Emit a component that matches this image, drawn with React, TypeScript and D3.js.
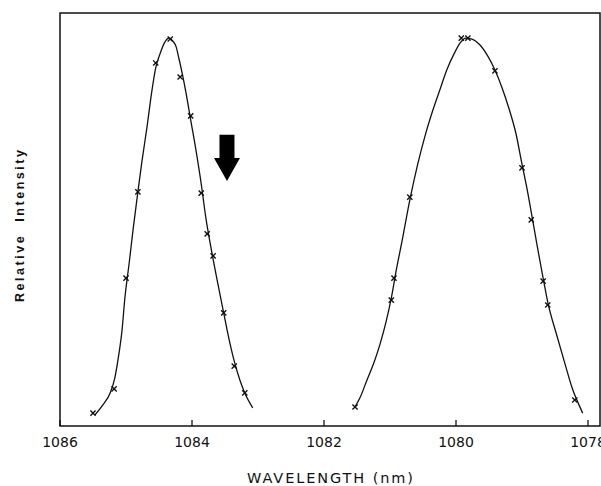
import React from "react";
import * as d3 from "d3";

// Wavelength ticks (nm)
const xTicks = [1086, 1084, 1082, 1080, 1078];

// Left peak: smooth curve samples [wavelength nm, relative intensity %]
const leftCurve: [number, number][] = [
  [1085.47, 2.7], [1085.35, 5.1], [1085.24, 8.0], [1085.17, 11.6], [1085.11, 17.2],
  [1085.06, 23.2], [1085.02, 30.5], [1084.95, 39.7], [1084.89, 47.9], [1084.82, 56.7],
  [1084.76, 63.9], [1084.68, 72.6], [1084.61, 80.9], [1084.55, 86.7], [1084.48, 90.3],
  [1084.42, 92.7], [1084.35, 93.9], [1084.29, 93.2], [1084.24, 91.8], [1084.2, 89.1],
  [1084.15, 85.5], [1084.09, 80.6], [1084.02, 74.1], [1083.94, 66.8], [1083.86, 58.6],
  [1083.79, 50.4], [1083.7, 42.1], [1083.61, 34.6], [1083.52, 27.4], [1083.44, 21.1],
  [1083.36, 15.7], [1083.27, 10.9], [1083.2, 8.0], [1083.08, 4.4],
];

// Left peak: measured points
const leftPoints: [number, number][] = [
  [1085.5, 3.1], [1085.18, 9.0], [1085.0, 35.8], [1084.82, 56.7], [1084.55, 87.9],
  [1084.33, 93.7], [1084.18, 84.5], [1084.02, 75.1], [1083.86, 56.4], [1083.77, 46.5],
  [1083.68, 41.2], [1083.52, 27.4], [1083.36, 14.5], [1083.2, 8.0],
];

// Right peak: smooth curve samples
const rightCurve: [number, number][] = [
  [1081.53, 4.6], [1081.45, 7.0], [1081.35, 11.1], [1081.24, 15.5], [1081.15, 19.9],
  [1081.06, 25.2], [1080.98, 31.0], [1080.91, 37.3], [1080.82, 44.6], [1080.7, 54.7],
  [1080.58, 63.4], [1080.47, 70.2], [1080.35, 76.5], [1080.24, 81.6], [1080.14, 86.2],
  [1080.03, 90.1], [1079.94, 92.7], [1079.85, 93.9], [1079.76, 93.7], [1079.64, 92.3],
  [1079.52, 89.6], [1079.41, 86.2], [1079.3, 81.8], [1079.2, 77.0], [1079.09, 70.7],
  [1079.0, 63.4], [1078.92, 57.1], [1078.86, 51.8], [1078.77, 43.6], [1078.68, 35.8],
  [1078.61, 30.0], [1078.47, 21.8], [1078.33, 14.0], [1078.24, 9.2], [1078.15, 5.6],
  [1078.08, 3.1],
];

// Right peak: measured points
const rightPoints: [number, number][] = [
  [1081.53, 4.6], [1080.98, 30.5], [1080.94, 35.8], [1080.7, 55.4], [1079.92, 93.9],
  [1079.82, 93.9], [1079.41, 86.0], [1079.0, 62.5], [1078.86, 49.9], [1078.68, 35.1],
  [1078.61, 29.3], [1078.2, 6.3],
];

// Arrow marker position (wavelength, intensity of tip / top)
const arrowAt = { nm: 1083.47, tip: 59.3, top: 70.5 };

const W = 601;
const H = 486;
const frame = { left: 60, top: 13, right: 600, bottom: 426 };

export default function App() {
  const x = d3.scaleLinear().domain([1086, 1078]).range([60, 588]);
  const y = d3.scaleLinear().domain([0, 100]).range([frame.bottom, frame.top]);
  const line = d3
    .line<[number, number]>()
    .x((d) => x(d[0]))
    .y((d) => y(d[1]))
    .curve(d3.curveMonotoneX);

  const sortCurve = (c: [number, number][]) => [...c].sort((a, b) => b[0] - a[0]);

  const marker = (d: [number, number], i: number) => {
    const cx = x(d[0]);
    const cy = y(d[1]);
    const s = 2.6;
    return (
      <path
        key={i}
        d={`M${cx - s},${cy - s}L${cx + s},${cy + s}M${cx + s},${cy - s}L${cx - s},${cy + s}`}
        stroke="#111"
        strokeWidth={1.4}
        fill="none"
      />
    );
  };

  const ax = x(arrowAt.nm);
  const tipY = y(arrowAt.tip);
  const topY = y(arrowAt.top);
  const headBase = tipY - 23;

  return (
    <svg
      width={W}
      height={H}
      style={{ position: "fixed", left: 0, top: 0, background: "#fff" }}
      fontFamily="DejaVu Sans, sans-serif"
    >
      <rect x={0} y={0} width={W} height={H} fill="#fff" />
      {/* frame */}
      <rect
        x={frame.left}
        y={frame.top}
        width={frame.right - frame.left}
        height={frame.bottom - frame.top}
        fill="none"
        stroke="#111"
        strokeWidth={1.5}
      />
      {/* ticks */}
      {xTicks.map((t) => (
        <g key={t}>
          <line x1={x(t)} x2={x(t)} y1={frame.bottom} y2={frame.bottom - 6} stroke="#111" strokeWidth={1.3} />
          <text x={x(t)} y={447} textAnchor="middle" fontSize={14} fill="#111">
            {t}
          </text>
        </g>
      ))}
      {/* curves */}
      <path d={line(sortCurve(leftCurve)) || ""} fill="none" stroke="#111" strokeWidth={1.3} />
      <path d={line(sortCurve(rightCurve)) || ""} fill="none" stroke="#111" strokeWidth={1.3} />
      {leftPoints.map(marker)}
      {rightPoints.map((d, i) => marker(d, i + 100))}
      {/* arrow */}
      <path
        d={`M${ax - 7.5},${topY}H${ax + 7.5}V${headBase}H${ax + 13}L${ax},${tipY}L${ax - 13},${headBase}H${ax - 7.5}Z`}
        fill="#000"
      />
      {/* axis labels */}
      <text
        x={330}
        y={483}
        textAnchor="middle"
        fontSize={14.5}
        fill="#111"
        textLength={166}
        lengthAdjust="spacing"
      >
        WAVELENGTH (nm)
      </text>
      <text
        transform="translate(24,226) rotate(-90)"
        textAnchor="middle"
        fontSize={12.5}
        fontFamily="Liberation Sans, Arial, sans-serif"
        fontWeight="bold"
        fill="#111"
        textLength={152}
        lengthAdjust="spacing"
        style={{ whiteSpace: "pre" }}
      >
        Relative  Intensity
      </text>
    </svg>
  );
}
